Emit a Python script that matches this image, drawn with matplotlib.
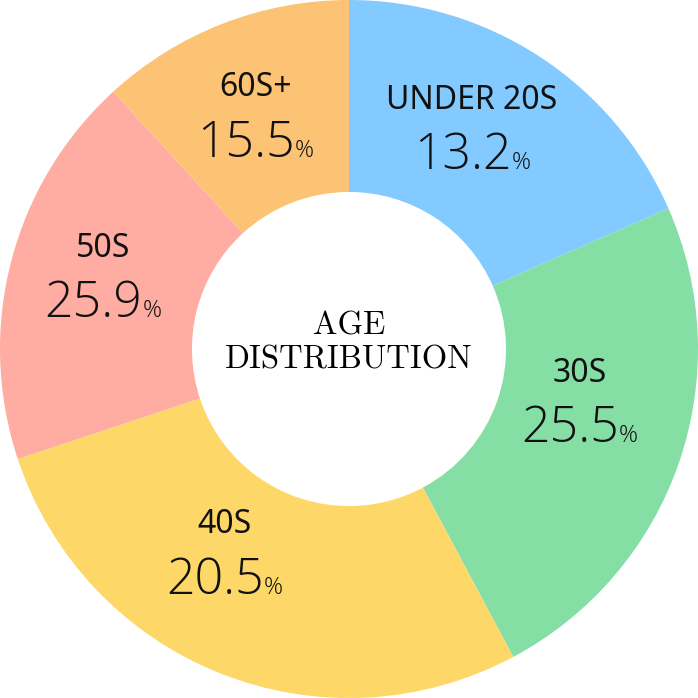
import numpy as np
import matplotlib.pyplot as plt

# groups, drawn clockwise from 12 o'clock
groups = ["UNDER 20S", "30S", "40S", "50S", "60S+"]
# slice sizes as drawn (the printed labels below do not add up to the arcs)
shares = [18.4, 23.8, 27.7, 18.3, 11.8]
pct_labels = ["13.2", "25.5", "20.5", "25.9", "15.5"]
colors = ["#82CAFF", "#85DFA5", "#FDD767", "#FFACA2", "#FDC375"]

# label anchors (angle in degrees, radius) as placed in the original
label_angle = [61.2, -12.2, 238.3, 163.0, 111.7]
label_radius = [0.732, 0.675, 0.677, 0.737, 0.728]

fig = plt.figure(figsize=(6.98, 6.98), dpi=100)
ax = fig.add_axes([0, 0, 1, 1])

wedges, _ = ax.pie(shares, colors=colors, startangle=90, counterclock=False,
                   radius=1.0, wedgeprops=dict(width=0.55, linewidth=0))
# pie() resets the limits, so set them afterwards
ax.set_xlim(-1.0, 1.0)
ax.set_ylim(-1.0, 1.0)
ax.set_aspect("equal")
ax.axis("off")

ax.text(0, 0.066, "AGE", family="cmr10", fontsize=23.5, ha="center", va="center")
ax.text(0, -0.032, "DISTRIBUTION", family="cmr10", fontsize=23.5, ha="center", va="center")

fig.canvas.draw()
renderer = fig.canvas.get_renderer()
px_per_unit = fig.bbox.width / 2.0
for g, p, a, r in zip(groups, pct_labels, label_angle, label_radius):
    x, y = r * np.cos(np.deg2rad(a)), r * np.sin(np.deg2rad(a))
    ax.text(x, y + 0.072, g, family="Noto Sans", fontsize=23, fontweight="medium",
            ha="center", va="center", color="#111111")
    num = ax.text(x, y - 0.125, p, family="Open Sans", fontsize=36, fontweight="light",
                  ha="left", va="baseline", color="#111111")
    pc = ax.text(x, y - 0.125, "%", family="Open Sans", fontsize=17, fontweight="light",
                 ha="left", va="baseline", color="#111111")
    wn = num.get_window_extent(renderer).width
    wp = pc.get_window_extent(renderer).width
    start = x - (wn + wp) / 2 / px_per_unit
    num.set_x(start)
    pc.set_x(start + wn / px_per_unit)

fig.savefig("out.png", dpi=100)
